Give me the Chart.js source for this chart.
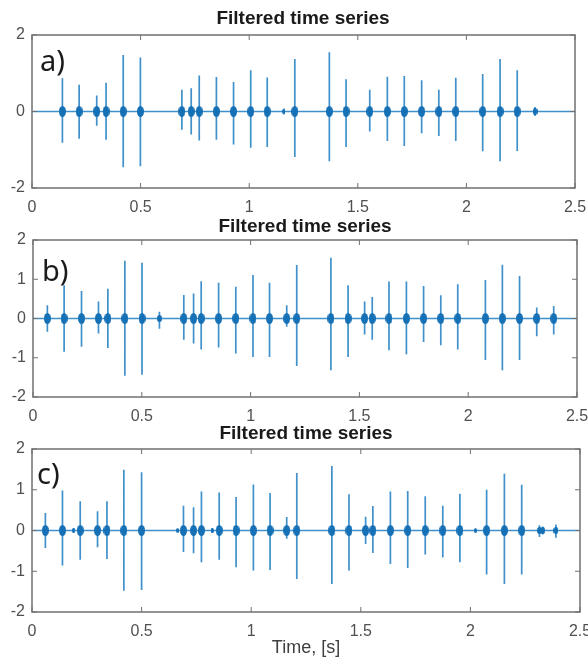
<!DOCTYPE html>
<html>
<head>
<meta charset="utf-8">
<script src="https://cdn.jsdelivr.net/npm/chart.js@4.4.1/dist/chart.umd.min.js"></script>
<style>
  html, body { margin: 0; padding: 0; background: #fff; }
  #wrap { position: relative; width: 588px; height: 659px; overflow: hidden; }
  #wrap canvas { position: absolute; left: 0; top: 0; }
  .tag { position: absolute; font-family: "Noto Sans", sans-serif; font-size: 29px; line-height: 29px; color: #1a1a1a; }
  .ttl { position: absolute; width: 300px; text-align: center; font-family: "Liberation Sans", Arial, sans-serif;
         font-weight: bold; font-size: 19px; line-height: 20px; color: #1a1a1a; }
</style>
</head>
<body>
<div id="wrap">
  <canvas id="panelA" width="588" height="659"></canvas>
  <canvas id="panelB" width="588" height="659"></canvas>
  <canvas id="panelC" width="588" height="659"></canvas>
  <div class="ttl" style="left:153px; top:8px;">Filtered time series</div>
  <div class="ttl" style="left:155px; top:216px;">Filtered time series</div>
  <div class="ttl" style="left:156px; top:423px;">Filtered time series</div>
  <div class="tag" style="left:40px; top:45px;">a)</div>
  <div class="tag" style="left:42px; top:255px;">b)</div>
  <div class="tag" style="left:37px; top:458px;">c)</div>
</div>
<script>
// tick labels
const xTicks = [0, 0.5, 1, 1.5, 2, 2.5];
const yTicksA = [-2, 0, 2];
const yTicksBC = [-2, -1, 0, 1, 2];

// a) spike times [s], positive peaks, negative peaks
const tA = [0.14, 0.217, 0.298, 0.341, 0.42, 0.499, 0.69, 0.733, 0.77, 0.849, 0.928, 1.007, 1.083,
            1.16, 1.21, 1.369, 1.446, 1.555, 1.636, 1.714, 1.794, 1.873, 1.951, 2.075, 2.155, 2.234, 2.316];
const upA = [0.87, 0.70, 0.42, 0.75, 1.48, 1.41, 0.57, 0.61, 0.94, 0.90, 0.77, 1.08, 0.89,
             0.08, 1.37, 1.55, 0.84, 0.57, 0.91, 0.93, 0.82, 0.57, 0.88, 0.98, 1.37, 1.08, 0.12];
const dnA = [-0.82, -0.71, -0.37, -0.74, -1.46, -1.43, -0.48, -0.60, -0.76, -0.74, -0.86, -0.95, -0.93,
             -0.08, -1.19, -1.30, -0.93, -0.52, -0.77, -0.90, -0.57, -0.64, -0.77, -1.04, -1.30, -1.03, -0.12];

// b)
const tB = [0.066, 0.143, 0.223, 0.301, 0.344, 0.422, 0.501, 0.581, 0.693, 0.738, 0.773, 0.853, 0.932,
            1.011, 1.087, 1.166, 1.212, 1.369, 1.448, 1.524, 1.559, 1.636, 1.716, 1.795, 1.874, 1.952,
            2.079, 2.157, 2.236, 2.315, 2.393];
const upB = [0.34, 0.85, 0.70, 0.43, 0.76, 1.47, 1.42, 0.17, 0.60, 0.64, 0.95, 0.91, 0.81,
             1.11, 0.91, 0.34, 1.36, 1.55, 0.85, 0.43, 0.55, 0.94, 0.94, 0.83, 0.59, 0.87,
             0.98, 1.37, 1.08, 0.28, 0.32];
const dnB = [-0.34, -0.85, -0.72, -0.38, -0.75, -1.46, -1.43, -0.26, -0.54, -0.64, -0.79, -0.74, -0.89,
             -0.98, -0.98, -0.21, -1.21, -1.32, -0.98, -0.41, -0.54, -0.81, -0.91, -0.60, -0.68, -0.79,
             -1.06, -1.32, -1.06, -0.45, -0.41];

// c)
const tC = [0.061, 0.139, 0.19, 0.22, 0.299, 0.342, 0.419, 0.5, 0.665, 0.691, 0.737, 0.773, 0.822,
            0.854, 0.931, 1.01, 1.086, 1.162, 1.208, 1.368, 1.446, 1.522, 1.555, 1.635, 1.714, 1.794,
            1.874, 1.952, 2.023, 2.074, 2.155, 2.234, 2.315, 2.33, 2.39];
const upC = [0.43, 0.98, 0.06, 0.72, 0.47, 0.72, 1.49, 1.43, 0.03, 0.61, 0.57, 0.96, 0.06,
             0.93, 0.82, 1.13, 0.92, 0.33, 1.41, 1.58, 0.89, 0.34, 0.60, 0.96, 0.97, 0.84,
             0.61, 0.90, 0.03, 1.00, 1.39, 1.12, 0.13, 0.10, 0.15];
const dnC = [-0.43, -0.86, -0.06, -0.72, -0.41, -0.70, -1.48, -1.46, -0.03, -0.53, -0.56, -0.78, -0.06,
             -0.72, -0.90, -0.98, -0.97, -0.20, -1.19, -1.31, -0.98, -0.33, -0.55, -0.82, -0.92, -0.59,
             -0.66, -0.78, -0.03, -1.08, -1.31, -1.08, -0.16, -0.10, -0.18];

const W = 588, H = 659;
const LINE = '#3f90cb';
const DOT = '#1570b6';
const FONT = '"Liberation Sans", Arial, sans-serif';

// elongated blob used as the marker at the dense part of each burst
function blob(w, h) {
    const c = document.createElement('canvas');
    c.width = w; c.height = h;
    const x = c.getContext('2d');
    x.fillStyle = DOT;
    x.beginPath();
    x.ellipse(w / 2, h / 2, w / 2, h / 2, 0, 0, Math.PI * 2);
    x.fill();
    return c;
}
const blobBig = blob(7, 11);
const blobMid = blob(5, 7);
const blobSmall = blob(3, 5);

// MATLAB style box with inward ticks
const boxPlugin = {
    id: 'box',
    afterDatasetsDraw(chart) {
        const { ctx, chartArea: a, scales } = chart;
        ctx.save();
        ctx.strokeStyle = '#707070';
        ctx.lineWidth = 1.5;
        ctx.strokeRect(a.left, a.top, a.right - a.left, a.bottom - a.top);
        ctx.lineWidth = 1;
        ctx.beginPath();
        scales.x.ticks.forEach(t => {
            const px = scales.x.getPixelForValue(t.value);
            ctx.moveTo(px, a.bottom); ctx.lineTo(px, a.bottom - 5);
            ctx.moveTo(px, a.top); ctx.lineTo(px, a.top + 5);
        });
        scales.y.ticks.forEach(t => {
            const py = scales.y.getPixelForValue(t.value);
            ctx.moveTo(a.left, py); ctx.lineTo(a.left + 5, py);
            ctx.moveTo(a.right, py); ctx.lineTo(a.right - 5, py);
        });
        ctx.stroke();
        ctx.restore();
    }
};

function makePanel(id, g, times, ups, downs, yTicks, xTitle) {
    // trace: baseline -> spike up -> spike down -> baseline
    const trace = [{ x: 0, y: 0 }];
    times.forEach((t, i) => {
        trace.push({ x: t, y: 0 }, { x: t, y: ups[i] }, { x: t, y: downs[i] }, { x: t, y: 0 });
    });
    trace.push({ x: 2.5, y: 0 });
    const dots = times.map(t => ({ x: t, y: 0 }));

    new Chart(document.getElementById(id), {
        type: 'scatter',
        data: {
            datasets: [
                {
                    data: dots,
                    pointStyle: ctx => {
                        const a = ups[ctx.dataIndex];
                        return a > 0.25 ? blobBig : (a > 0.09 ? blobMid : blobSmall);
                    },
                    pointRadius: 4
                },
                {
                    data: trace,
                    showLine: true,
                    borderColor: LINE,
                    borderWidth: 1.7,
                    pointRadius: 0
                }
            ]
        },
        options: {
            responsive: false,
            animation: false,
            devicePixelRatio: 1,
            layout: {
                padding: { left: 0, right: W - g.right, top: g.top, bottom: H - g.bottom - g.axisH }
            },
            plugins: {
                legend: { display: false },
                tooltip: { enabled: false },
                title: { display: false }
            },
            scales: {
                x: {
                    type: 'linear',
                    min: 0, max: 2.5,
                    grid: { display: false, drawTicks: false },
                    border: { display: false },
                    afterBuildTicks: s => { s.ticks = xTicks.map(v => ({ value: v })); },
                    afterFit: s => { s.height = g.axisH; s.paddingLeft = 0; s.paddingRight = 0; },
                    ticks: {
                        color: '#505050',
                        padding: 10,
                        maxRotation: 0,
                        font: { family: FONT, size: 16 },
                        callback: v => String(v)
                    },
                    title: {
                        display: !!xTitle,
                        text: xTitle || '',
                        color: '#404040',
                        font: { family: FONT, size: 18 },
                        padding: { top: 0, bottom: 0 }
                    }
                },
                y: {
                    min: -2, max: 2,
                    grid: { display: false, drawTicks: false },
                    border: { display: false },
                    afterBuildTicks: s => { s.ticks = yTicks.map(v => ({ value: v })); },
                    afterFit: s => { s.width = g.left; s.paddingTop = 0; s.paddingBottom = 0; },
                    ticks: {
                        color: '#505050',
                        padding: 7,
                        font: { family: FONT, size: 16 },
                        callback: v => String(v)
                    }
                }
            }
        },
        plugins: [boxPlugin]
    });
}

makePanel('panelA', { left: 32, right: 575, top: 35, bottom: 188, axisH: 30 }, tA, upA, dnA, yTicksA);
makePanel('panelB', { left: 33, right: 577, top: 240, bottom: 397, axisH: 30 }, tB, upB, dnB, yTicksBC);
makePanel('panelC', { left: 32, right: 580, top: 449, bottom: 612, axisH: 47 }, tC, upC, dnC, yTicksBC, 'Time, [s]');
</script>
</body>
</html>
